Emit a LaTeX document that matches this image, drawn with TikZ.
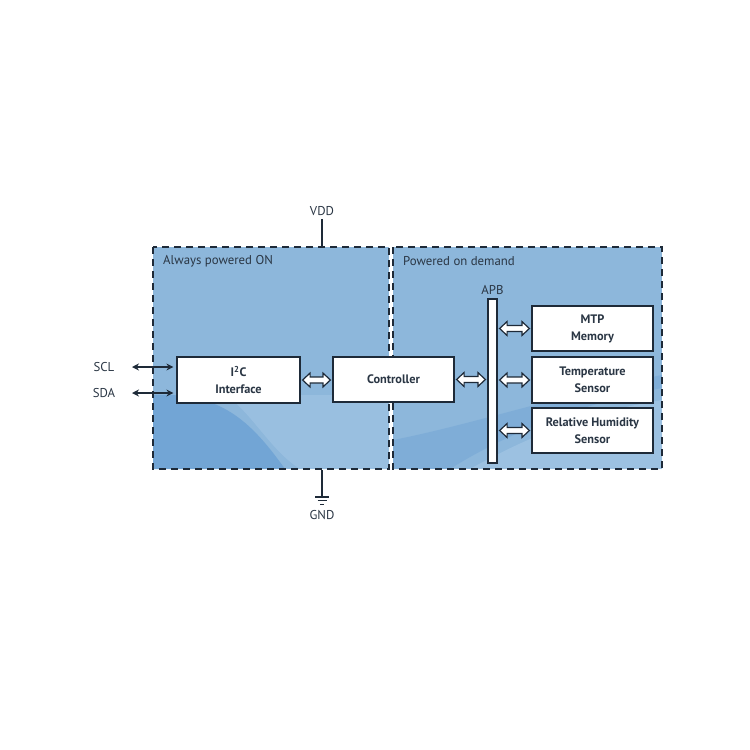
\documentclass[tikz,border=0pt]{standalone}
\usepackage{fontspec}
\setmainfont{PT Sans}
\usetikzlibrary{calc,arrows.meta}
\definecolor{regfill}{HTML}{8DB7DB}
\definecolor{regdark}{HTML}{72A5D5}
\definecolor{reglight}{HTML}{A6C8E6}
\definecolor{lineC}{HTML}{1E2A38}
\definecolor{txtC}{HTML}{2A3644}
\tikzset{
  region/.style={draw=lineC, line width=1.6pt, dash pattern=on 7pt off 5pt},
  blockbox/.style={draw=lineC, fill=white, line width=1.2pt, inner sep=0pt, align=center,
    text=txtC, font=\bfseries\fontsize{12.3}{17}\selectfont},
  lbl/.style={text=txtC, font=\fontsize{12.8}{14}\selectfont, inner sep=0pt},
  fatarrow/.style={draw=lineC, fill=white, line width=1.2pt, line join=miter},
  thin/.style={draw=lineC, line width=1.3pt},
  sig/.style={draw=lineC, line width=1.3pt, <->, >={Stealth[length=7pt,width=7pt]}}
}
\newcommand\fatarr[2]{\path[fatarrow] let \p1=($(#1)+(2pt,0)$), \p2=($(#2)+(-2pt,0)$) in
  (\x1,\y1) -- (\x1+7.5pt,\y1+7pt) -- (\x1+7.5pt,\y1+3pt) -- (\x2-7.5pt,\y1+3pt) -- (\x2-7.5pt,\y1+7pt)
  -- (\x2,\y1) -- (\x2-7.5pt,\y1-7pt) -- (\x2-7.5pt,\y1-3pt) -- (\x1+7.5pt,\y1-3pt) -- (\x1+7.5pt,\y1-7pt) -- cycle;}
\begin{document}
\begin{tikzpicture}[x=1pt,y=-1pt]
\useasboundingbox (0,0) rectangle (750,750);
% regions fills
\fill[regfill] (153,247) rectangle (389,469);
\fill[regfill] (393,247) rectangle (662,469);
\begin{scope}
\clip (153,247) rectangle (389,469);
\fill[regdark] (153,395) .. controls (220,392) and (250,420) .. (285,469) -- (153,469) -- cycle;
\fill[reglight, opacity=0.5] (225,395) .. controls (250,410) and (270,450) .. (300,469) -- (389,469) -- (389,395) -- cycle;
\end{scope}
\begin{scope}
\clip (393,247) rectangle (662,469);
\fill[regdark, opacity=0.5] (393,440) -- (393,469) -- (450,469) .. controls (520,425) and (600,400) .. (662,388) -- (662,375) .. controls (560,395) and (470,425) .. (393,440) -- cycle;
\fill[reglight, opacity=0.6] (470,469) .. controls (540,430) and (600,410) .. (662,400) -- (662,469) -- cycle;
\end{scope}
\draw[region] (153,247) rectangle (389,469);
\draw[region] (393,247) rectangle (662,469);
% region labels
\node[lbl, anchor=west] (alw) at (163,261) {Always powered ON};
\node[lbl, anchor=west] (pod) at (403,261) {Powered on demand};
% blocks
\node[blockbox, minimum width=123pt, minimum height=46pt] (i2c) at (238.5,380) {I\textsuperscript{2}C\\Interface};
\node[blockbox, minimum width=121pt, minimum height=45pt] (ctrl) at (393.5,379.5) {Controller};
\node[blockbox, minimum width=121pt, minimum height=45pt] (mtp) at (592.5,328.5) {MTP\\Memory};
\node[blockbox, minimum width=121pt, minimum height=46pt] (temp) at (592.5,380) {Temperature\\Sensor};
\node[blockbox, minimum width=121pt, minimum height=45pt] (rh) at (592.5,430.5) {Relative Humidity\\Sensor};
\node[draw=lineC, fill=white, line width=1.2pt, inner sep=0pt, minimum width=9pt, minimum height=164pt] (apb) at (492.5,381) {};
\node[lbl] (apbl) at (492.5,290) {APB};
% fat arrows
\fatarr{i2c.east}{ctrl.west}
\fatarr{ctrl.east}{apb.west |- ctrl.east}
\fatarr{apb.east |- mtp.west}{mtp.west}
\fatarr{apb.east |- temp.west}{temp.west}
\fatarr{apb.east |- rh.west}{rh.west}
% SCL / SDA
\node[lbl] (scl) at (104,367) {SCL};
\node[lbl] (sda) at (104,393) {SDA};
\coordinate (scla) at (132,367);
\coordinate (sdaa) at (132,393);
\draw[sig] (scla) -- ($(i2c.west |- scla)+(-3,0)$);
\draw[sig] (sdaa) -- ($(i2c.west |- sdaa)+(-3,0)$);
% VDD / GND
\node[lbl] (vdd) at (322,211) {VDD};
\coordinate (vddb) at (322,247);
\draw[thin] (vdd.south) ++(0,3) -- (vddb);
\coordinate (gndt) at (322,470);
\coordinate (gndb) at (322,497);
\draw[thin] (gndt) -- (gndb);
\draw[thin] ($(gndb)+(-7,0)$) -- ($(gndb)+(7,0)$);
\draw[thin, line width=1pt] ($(gndb)+(-4.5,3.5)$) -- ($(gndb)+(4.5,3.5)$);
\draw[thin, line width=0.9pt] ($(gndb)+(-2,7)$) -- ($(gndb)+(2,7)$);
\node[lbl] (gnd) at (322,515) {GND};
\end{tikzpicture}
\end{document}
